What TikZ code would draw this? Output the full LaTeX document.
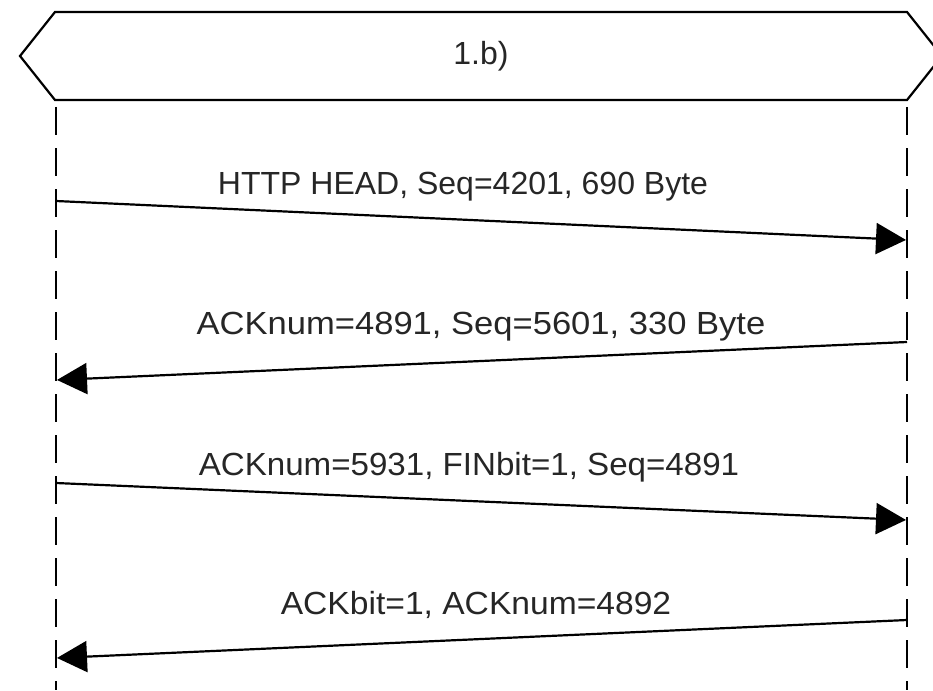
\documentclass[tikz,border=0pt]{standalone}
\usepackage{fontspec}
\setmainfont{Liberation Sans}
\usetikzlibrary{arrows.meta}
\begin{document}
\begin{tikzpicture}[x=1pt,y=-1pt,
  line/.style={line width=2.2pt,black},
  lifeline/.style={line width=2.2pt,black,dash pattern=on 28pt off 13pt},
  msg/.style={line width=2.2pt,black,-{Triangle[length=30pt,width=31pt]},shorten >=1pt},
  lbl/.style={font=\fontsize{32}{38}\selectfont,text=black!85,anchor=base,inner sep=0pt}]
\useasboundingbox (0,0) rectangle (933,690);
\draw[line] (20,56) -- (55,12) -- (907,12) -- (942,56) -- (907,100) -- (55,100) -- cycle;
\node[font=\fontsize{32}{38}\selectfont,text=black!85] (title) at (481,56) {1.b)};
\coordinate (Ltop) at (56,107);
\coordinate (Lbot) at (56,690);
\coordinate (Rtop) at (907,107);
\coordinate (Rbot) at (907,690);
\draw[lifeline] (Ltop) -- (Lbot);
\draw[lifeline] (Rtop) -- (Rbot);
\coordinate (a1s) at (56,201); \coordinate (a1e) at (907,240);
\coordinate (a2s) at (907,342); \coordinate (a2e) at (56,380);
\coordinate (a3s) at (56,483); \coordinate (a3e) at (907,520);
\coordinate (a4s) at (907,620); \coordinate (a4e) at (56,658);
\draw[msg] (a1s) -- (a1e);
\draw[msg] (a2s) -- (a2e);
\draw[msg] (a3s) -- (a3e);
\draw[msg] (a4s) -- (a4e);
\node[lbl] (l1) at (463,194) {HTTP HEAD, Seq=4201, 690 Byte};
\node[lbl,xscale=1.08] (l2) at (481,334) {ACKnum=4891, Seq=5601, 330 Byte};
\node[lbl,xscale=1.035] (l3) at (469,475) {ACKnum=5931, FINbit=1, Seq=4891};
\node[lbl,xscale=1.05] (l4) at (476,614) {ACKbit=1, ACKnum=4892};
\end{tikzpicture}
\end{document}
